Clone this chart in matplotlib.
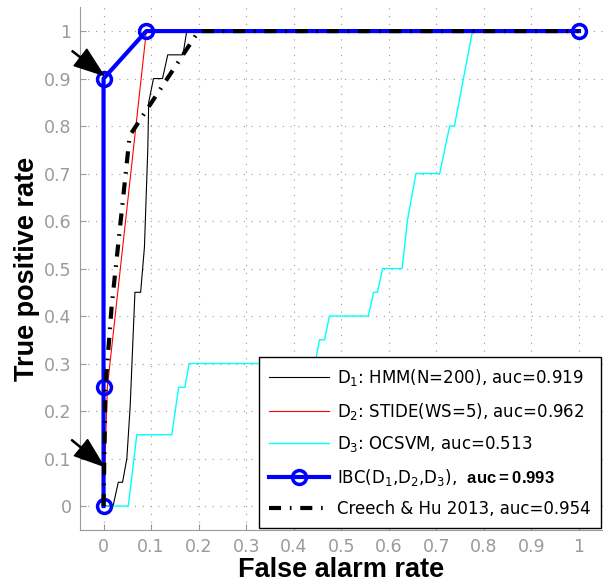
"""
ROC curves: single detectors vs IBC combination vs Creech & Hu 2013.
"""
import matplotlib
matplotlib.use("Agg")
import matplotlib.pyplot as plt

# ── Data ──────────────────────────────────────────────────────────────────────
hmm_fpr = [0, 0.02, 0.031, 0.04, 0.049, 0.056, 0.066, 0.078, 0.086, 0.093,
           0.095, 0.105, 0.124, 0.135, 0.167, 0.175, 1.0]
hmm_tpr = [0, 0, 0.05, 0.05, 0.10, 0.21, 0.45, 0.45, 0.545, 0.75,
           0.85, 0.90, 0.90, 0.95, 0.95, 1.0, 1.0]

stide_fpr = [0, 0.008, 0.09, 1.0]
stide_tpr = [0, 0.25, 1.0, 1.0]

ocsvm_fpr = [0, 0.052, 0.07, 0.1435, 0.158, 0.171, 0.18, 0.445, 0.454, 0.465,
             0.475, 0.557, 0.568, 0.576, 0.587, 0.628, 0.639, 0.657, 0.707,
             0.728, 0.738, 0.776, 1.0]
ocsvm_tpr = [0, 0, 0.15, 0.15, 0.25, 0.25, 0.30, 0.30, 0.35, 0.35,
             0.40, 0.40, 0.45, 0.45, 0.50, 0.50, 0.60, 0.70, 0.70,
             0.80, 0.80, 1.0, 1.0]

ibc_fpr = [0, 0, 0, 0.09, 1.0]
ibc_tpr = [0, 0.25, 0.90, 1.0, 1.0]

creech_fpr = [0, 0.004, 0.017, 0.055, 0.2, 1.0]
creech_tpr = [0, 0.25, 0.42, 0.78, 1.0, 1.0]

labels = [
    r"D$_1$: HMM(N=200), auc=0.919",
    r"D$_2$: STIDE(WS=5), auc=0.962",
    r"D$_3$: OCSVM, auc=0.513",
    r"IBC(D$_1$,D$_2$,D$_3$),  $\bf{auc{=}0.993}$",
    r"Creech & Hu 2013, auc=0.954",
]

# arrows: (tip, tail)
arrows = [((0.0, 0.907), (-0.066, 0.958)),
          ((0.0, 0.084), (-0.067, 0.139))]

plt.rcParams["mathtext.fontset"] = "custom"
plt.rcParams["mathtext.rm"] = "DejaVu Sans"
plt.rcParams["mathtext.it"] = "DejaVu Sans"
plt.rcParams["mathtext.bf"] = "Liberation Sans:bold"

GRAY = "#9a9a9a"

fig = plt.figure(figsize=(6.03, 5.87), dpi=100)
ax = fig.add_axes([0.1323, 0.0975, 0.8673, 0.890])

ax.plot(hmm_fpr, hmm_tpr, color="black", lw=0.8, label=labels[0])
ax.plot(stide_fpr, stide_tpr, color="red", lw=0.8, label=labels[1])
ax.plot(ocsvm_fpr, ocsvm_tpr, color="cyan", lw=1.0, label=labels[2])
ax.plot(ibc_fpr, ibc_tpr, color="blue", lw=3, marker="o", ms=10,
        mfc="none", mec="blue", mew=2.5, label=labels[3])
ax.plot(creech_fpr, creech_tpr, color="black", lw=3,
        dashes=(2.9, 2.1, 0.4, 2.1), label=labels[4])

for tip, tail in arrows:
    ax.annotate("", xy=tip, xytext=tail, annotation_clip=False,
                arrowprops=dict(facecolor="black", edgecolor="black",
                                width=0.8, headwidth=15, headlength=21,
                                shrink=0))

# ── Axes style ────────────────────────────────────────────────────────────────
ax.set_xlim(-0.05, 1.05)
ax.set_ylim(-0.05, 1.05)
ticks = [i / 10 for i in range(11)]
ax.set_xticks(ticks)
ax.set_yticks(ticks)
ax.set_xticklabels(["0"] + [f"{t:.1f}" for t in ticks[1:-1]] + ["1"])
ax.set_yticklabels(["0"] + [f"{t:.1f}" for t in ticks[1:-1]] + ["1"])
ax.tick_params(direction="in", length=4, color=GRAY, labelcolor=GRAY,
               labelsize=12.5, pad=6)
ax.grid(True, color=GRAY, linestyle=(0, (1, 6)), linewidth=0.8)
for side in ("top", "right"):
    ax.spines[side].set_visible(False)
for side in ("left", "bottom"):
    ax.spines[side].set_color(GRAY)

ax.set_xlabel("False alarm rate", fontsize=19.5, fontweight="bold",
              family="Liberation Sans", labelpad=1)
ax.set_ylabel("True positive rate", fontsize=19.5, fontweight="bold",
              family="Liberation Sans", labelpad=3)

leg = ax.legend(loc="lower right", bbox_to_anchor=(1.0, 0.0), fontsize=12,
                handlelength=3.6, labelspacing=0.75, handletextpad=0.5,
                borderaxespad=0.1, fancybox=False, framealpha=1,
                edgecolor="black", borderpad=0.6)
leg.get_frame().set_linewidth(1.0)

fig.savefig("out.png", dpi=100)
